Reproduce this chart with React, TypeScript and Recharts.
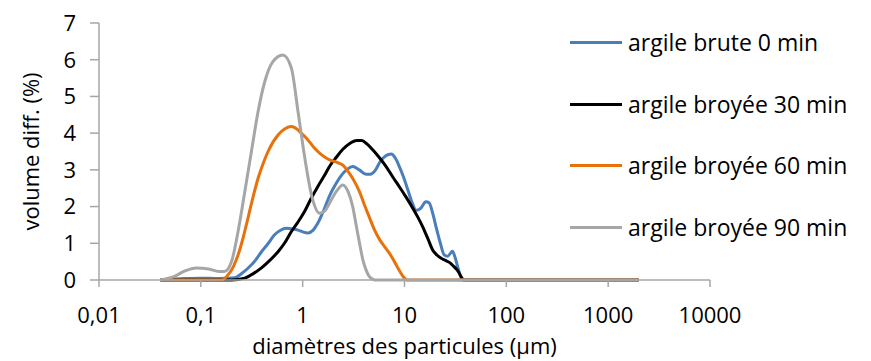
import { LineChart, Line, XAxis, YAxis, Label } from "recharts";

const FONT = "'Open Sans', sans-serif";
const AXIS_COLOR = "#a6a6a6";

const X_TICKS = [0.01, 0.1, 1, 10, 100, 1000, 10000];
const Y_TICKS = [0, 1, 2, 3, 4, 5, 6, 7];

const SERIES_NAMES = [
  "argile brute 0 min",
  "argile broyée 30 min",
  "argile broyée 60 min",
  "argile broyée 90 min",
];
const SERIES_COLORS = ["#4a7ebb", "#000000", "#e8710a", "#a6a6a6"];

// diamètre (µm) / volume diff. (%)
const bruteX = [0.04, 0.07, 0.1, 0.15, 0.215, 0.25, 0.29, 0.34, 0.394, 0.46, 0.53, 0.6, 0.69, 0.8, 0.9, 1.0, 1.13, 1.26, 1.41, 1.6, 1.84, 2.1, 2.4, 2.75, 3.1, 3.6, 4.2, 4.6, 5.2, 5.7, 6.5, 7.4, 8.2, 8.9, 9.8, 10.8, 11.9, 13, 14.5, 16.2, 17.5, 19, 20.4, 22.5, 24.6, 26.5, 29.6, 31.5, 34, 37, 2000];
const bruteY = [0, 0.04, 0.05, 0.04, 0.06, 0.17, 0.32, 0.52, 0.77, 1.0, 1.23, 1.35, 1.41, 1.39, 1.36, 1.31, 1.28, 1.35, 1.55, 1.88, 2.3, 2.6, 2.85, 3.02, 3.09, 3.0, 2.88, 2.88, 3.0, 3.2, 3.38, 3.43, 3.3, 3.09, 2.8, 2.45, 2.1, 1.9, 1.96, 2.13, 2.1, 1.8, 1.45, 1.0, 0.68, 0.65, 0.78, 0.6, 0.27, 0, 0];

const broye30X = [0.04, 0.12, 0.2, 0.27, 0.33, 0.394, 0.47, 0.573, 0.67, 0.775, 0.9, 1.05, 1.2, 1.41, 1.64, 1.84, 2.15, 2.48, 2.9, 3.4, 3.8, 4.3, 4.9, 5.6, 6.6, 7.7, 8.9, 10.4, 12.1, 13.6, 15.1, 17, 18.9, 20.8, 22.9, 25, 27.6, 30.5, 33.4, 36, 38, 2000];
const broye30Y = [0, 0, 0, 0.05, 0.18, 0.33, 0.52, 0.77, 1.02, 1.32, 1.58, 1.88, 2.2, 2.55, 2.85, 3.1, 3.35, 3.56, 3.72, 3.8, 3.8, 3.7, 3.54, 3.35, 3.09, 2.8, 2.54, 2.25, 1.95, 1.7, 1.45, 1.12, 0.82, 0.68, 0.59, 0.54, 0.48, 0.37, 0.25, 0.09, 0, 0];

const broye60X = [0.04, 0.12, 0.16, 0.185, 0.21, 0.232, 0.26, 0.29, 0.325, 0.365, 0.41, 0.457, 0.573, 0.67, 0.775, 0.87, 0.97, 1.1, 1.31, 1.55, 1.84, 2.2, 2.5, 2.8, 3.2, 3.62, 4.1, 4.5, 5.1, 5.7, 6.4, 7.1, 7.9, 8.6, 9.4, 10, 10.6, 2000];
const broye60Y = [0, 0, 0, 0.14, 0.38, 0.68, 1.15, 1.68, 2.25, 2.77, 3.18, 3.5, 3.95, 4.12, 4.18, 4.12, 4.0, 3.85, 3.59, 3.4, 3.27, 3.2, 3.12, 2.95, 2.7, 2.4, 2.0, 1.72, 1.35, 1.1, 0.9, 0.73, 0.52, 0.33, 0.15, 0.05, 0, 0];

const broye90X = [0.04, 0.055, 0.07, 0.09, 0.12, 0.15, 0.17, 0.2, 0.232, 0.27, 0.314, 0.365, 0.424, 0.51, 0.64, 0.775, 0.9, 1.05, 1.22, 1.47, 1.65, 1.84, 2.15, 2.48, 2.8, 3.1, 3.35, 3.62, 3.9, 4.2, 4.5, 4.9, 5.3, 2000];
const broye90Y = [0, 0.1, 0.25, 0.33, 0.3, 0.23, 0.23, 0.5, 1.32, 2.4, 3.5, 4.59, 5.4, 5.95, 6.13, 5.77, 4.59, 3.32, 2.32, 1.82, 1.88, 2.1, 2.42, 2.59, 2.4, 2.0, 1.5, 1.0, 0.55, 0.27, 0.1, 0.02, 0, 0];

const SERIES_X = [bruteX, broye30X, broye60X, broye90X];
const SERIES_Y = [bruteY, broye30Y, broye60Y, broye90Y];

const LEGEND_TOP = [42, 104, 165, 227];

const toPoints = (xs: number[], ys: number[]) => xs.map((x, i) => ({ x, y: ys[i] }));

const tickStyle = { fill: "#000", fontSize: 22, fontFamily: FONT };

export default function App() {
  return (
    <div style={{ position: "absolute", left: 0, top: 0, width: 871, height: 361, background: "#fff" }}>
      <LineChart width={871} height={361} margin={{ top: 23, right: 161, bottom: 0, left: 0 }}>
        <XAxis
          dataKey="x"
          type="number"
          scale="log"
          domain={[0.01, 10000]}
          ticks={X_TICKS}
          allowDataOverflow
          height={81}
          tickFormatter={(v: number) => String(v).replace(".", ",")}
          tick={tickStyle}
          tickSize={7}
          tickMargin={20}
          tickLine={{ stroke: AXIS_COLOR, strokeWidth: 1.5 }}
          axisLine={{ stroke: AXIS_COLOR, strokeWidth: 1.5 }}
        >
          <Label
            value="diamètres des particules (μm)"
            position="insideBottom"
            offset={7}
            style={{ fill: "#000", fontSize: 22, fontFamily: FONT }}
          />
        </XAxis>
        <YAxis
          type="number"
          domain={[0, 7]}
          ticks={Y_TICKS}
          width={99}
          tick={tickStyle}
          tickSize={9}
          tickMargin={14}
          tickLine={{ stroke: AXIS_COLOR, strokeWidth: 1.5 }}
          axisLine={{ stroke: AXIS_COLOR, strokeWidth: 1.5 }}
        >
          <Label
            value="volume diff. (%)"
            angle={-90}
            position="insideLeft"
            offset={31}
            style={{ fill: "#000", fontSize: 22, fontFamily: FONT, textAnchor: "middle" }}
          />
        </YAxis>
        {SERIES_NAMES.map((name, i) => (
          <Line
            key={name}
            name={name}
            data={toPoints(SERIES_X[i], SERIES_Y[i])}
            dataKey="y"
            type="monotone"
            stroke={SERIES_COLORS[i]}
            strokeWidth={3}
            dot={false}
            activeDot={false}
            isAnimationActive={false}
          />
        ))}
      </LineChart>
      {SERIES_NAMES.map((name, i) => (
        <div
          key={name}
          style={{
            position: "absolute",
            left: 570,
            top: LEGEND_TOP[i] - 16,
            height: 32,
            display: "flex",
            alignItems: "center",
            fontFamily: FONT,
            fontSize: 23,
            color: "#000",
            whiteSpace: "nowrap",
          }}
        >
          <span style={{ display: "inline-block", width: 52, height: 3, background: SERIES_COLORS[i], marginRight: 6 }} />
          {name}
        </div>
      ))}
    </div>
  );
}
